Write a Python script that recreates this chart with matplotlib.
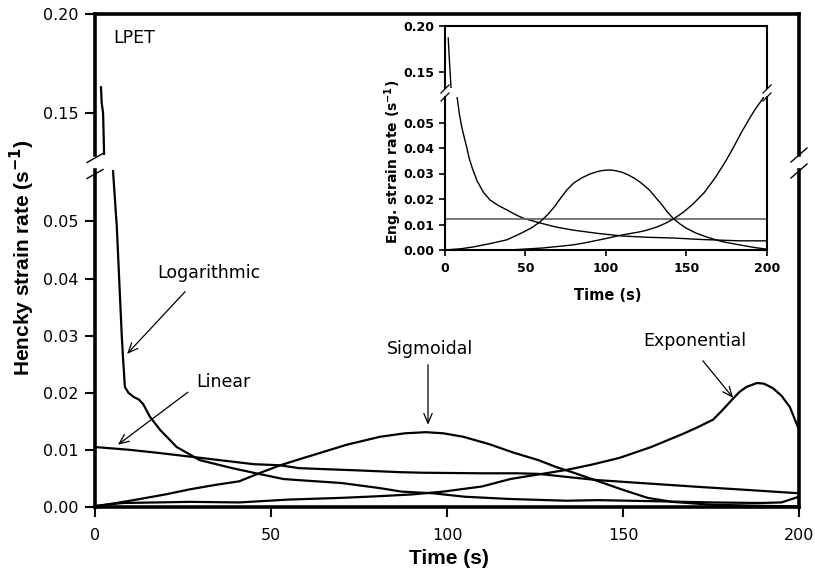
import matplotlib
matplotlib.use("Agg")
import matplotlib.pyplot as plt
from matplotlib.lines import Line2D

W, H = 815, 574

# ---------------- data ----------------
# Main chart: Hencky strain rate (s^-1) vs time (s)
log_t = [1.7, 1.9, 2.3, 2.6, 3.5, 4.8, 5.1, 6.2, 7.6, 8.0, 8.5, 9.5, 10.9, 12.5, 13.7,
         15.6, 18.5, 23.2, 29.8, 39, 45, 53.5, 58, 70, 81, 87, 96, 105, 118, 134,
         143, 160, 175, 189, 195, 200]
log_v = [0.163, 0.155, 0.150, 0.128, 0.090, 0.062, 0.059, 0.049, 0.030, 0.0257, 0.021,
         0.0200, 0.0193, 0.0188, 0.0180, 0.0158, 0.0135, 0.0105, 0.0082, 0.0068, 0.0060,
         0.0049, 0.0047, 0.0042, 0.0033, 0.0027, 0.0024, 0.0018, 0.0014, 0.0011, 0.0012,
         0.0010, 0.0008, 0.0007, 0.0008, 0.0018]

lin_t = [0, 10, 17.6, 30, 45, 52.6, 58, 75, 86.6, 93, 110, 120, 126, 135, 143, 155,
         172, 185, 200]
lin_v = [0.0105, 0.0100, 0.0095, 0.0086, 0.0075, 0.0073, 0.0068, 0.0064, 0.0061,
         0.0060, 0.0059, 0.0059, 0.0058, 0.0052, 0.0047, 0.0042, 0.0035, 0.0030, 0.0024]

sig_t = [0, 10, 20, 27, 34.5, 41, 47, 52.6, 58.8, 62, 71.5, 81, 88, 94, 99, 104.6,
         112, 119, 126, 131, 136, 143, 150, 157, 164, 175, 190, 200]
sig_v = [0.0001, 0.0011, 0.0022, 0.0031, 0.0039, 0.0045, 0.0060, 0.0073, 0.0085,
         0.0091, 0.0109, 0.0123, 0.0129, 0.0131, 0.0129, 0.0123, 0.0110, 0.0095,
         0.0082, 0.0070, 0.0060, 0.0045, 0.0030, 0.0016, 0.0009, 0.0004, 0.0002, 0.0001]

exp_t = [0, 8, 27, 41, 55, 70, 81, 90, 99, 110, 118, 126, 134, 141, 149, 158, 167,
         171, 175.6, 178, 181, 183, 185, 188, 190, 192.6, 195, 197.4, 199.7]
exp_v = [0.0002, 0.0007, 0.0009, 0.0008, 0.0013, 0.0016, 0.0019, 0.0022, 0.0027,
         0.0036, 0.0049, 0.0057, 0.0065, 0.0074, 0.0086, 0.0105, 0.0128, 0.0139,
         0.0153, 0.0168, 0.0188, 0.0201, 0.0210, 0.0217, 0.0216, 0.0208, 0.0195,
         0.0175, 0.0140]

# Inset: engineering strain rate (s^-1) vs time (s)
ilog_t = [2.0, 2.5, 3.0, 3.5, 4.0, 6.0, 7.5, 9.0, 10.5, 12.0, 13.6, 15.0, 17, 20, 24,
          28, 33, 38.5, 44, 48.5, 59, 69, 79.5, 95, 110, 125, 141.6, 160, 183, 200]
ilog_v = [0.187, 0.170, 0.155, 0.140, 0.125, 0.075, 0.060, 0.053, 0.048, 0.044, 0.040,
          0.036, 0.032, 0.027, 0.0225, 0.0196, 0.0175, 0.0157, 0.0138, 0.0125, 0.0106,
          0.0090, 0.0078, 0.0065, 0.0055, 0.0050, 0.0047, 0.0041, 0.0036, 0.0036]

ilin_t = [0, 200]
ilin_v = [0.0122, 0.0122]

isig_t = [0, 10, 17.6, 28, 38.5, 48, 54, 59, 64, 68, 72, 75.6, 80, 85, 90, 95, 98,
          102.5, 106, 110, 114, 118, 122, 127, 131, 135, 138, 142, 146, 150, 156,
          162.5, 172, 183, 192, 200]
isig_v = [0.0, 0.0005, 0.0012, 0.0025, 0.0040, 0.0068, 0.0088, 0.0110, 0.0140, 0.0170,
          0.0205, 0.0235, 0.0263, 0.0283, 0.0298, 0.0308, 0.0312, 0.0314, 0.0311,
          0.0305, 0.0294, 0.0280, 0.0262, 0.0235, 0.0205, 0.0175, 0.0150, 0.0122,
          0.0102, 0.0085, 0.0066, 0.0051, 0.0033, 0.0020, 0.0010, 0.0003]

iexp_t = [0, 40, 61, 79.5, 86, 100, 110, 120, 125, 131.5, 137, 142, 148, 154, 161,
          168, 174, 179, 184, 189.5, 193, 197, 200]
iexp_v = [0.0, 0.0, 0.0008, 0.0020, 0.0027, 0.0045, 0.0059, 0.0070, 0.0077, 0.0090,
          0.0105, 0.0122, 0.0148, 0.0180, 0.0225, 0.0285, 0.0345, 0.0400, 0.0460,
          0.0520, 0.0555, 0.0590, 0.0620]

x_ticks = [0, 50, 100, 150, 200]
main_low_ticks = [0.00, 0.01, 0.02, 0.03, 0.04, 0.05]
main_up_ticks = [0.15, 0.20]
ins_low_ticks = [0.00, 0.01, 0.02, 0.03, 0.04, 0.05]
ins_up_ticks = [0.15, 0.20]

# ---------------- figure ----------------
fig = plt.figure(figsize=(W / 100, H / 100), dpi=100)
plt.rcParams['font.family'] = ['DejaVu Sans']


def rect(l, t, r, b):
    return [l / W, 1 - b / H, (r - l) / W, (b - t) / H]


main_l, main_r = 95, 799
ax_lo = fig.add_axes(rect(main_l, 170, main_r, 507))
ax_up = fig.add_axes(rect(main_l, 14, main_r, 155))

series_main = [(log_t, log_v), (lin_t, lin_v), (sig_t, sig_v), (exp_t, exp_v)]
for ax in (ax_lo, ax_up):
    for t, v in series_main:
        ax.plot(t, v, color='black', lw=1.6, solid_joinstyle='round')
    ax.set_xlim(0, 200)
    for s in ax.spines.values():
        s.set_linewidth(2.6)
    ax.tick_params(direction='out', length=7, width=1.5, labelsize=11.5, pad=5)

ax_lo.set_ylim(0, 0.059)
ax_up.set_ylim(0.1288, 0.20)
ax_lo.spines['top'].set_visible(False)
ax_up.spines['bottom'].set_visible(False)
ax_lo.set_xticks(x_ticks)
ax_lo.set_xticklabels([str(x) for x in x_ticks])
ax_lo.tick_params(axis='x', pad=8)
ax_up.set_xticks([])
ax_lo.set_yticks(main_low_ticks)
ax_lo.set_yticklabels([f"{v:.2f}" for v in main_low_ticks])
ax_up.set_yticks(main_up_ticks)
ax_up.set_yticklabels([f"{v:.2f}" for v in main_up_ticks])
ax_lo.yaxis.set_ticks_position('left')
ax_up.yaxis.set_ticks_position('left')

# labels
fig.text(22 / W, 1 - 258 / H, "Hencky strain rate (s$^{\\mathbf{-1}}$)", rotation=90,
         ha='center', va='center', fontsize=15, fontweight='bold',
         family=['Liberation Sans', 'DejaVu Sans'])
fig.text(449 / W, 1 - 559 / H, "Time (s)", ha='center', va='center', fontsize=15,
         fontweight='bold', family=['Liberation Sans', 'DejaVu Sans'])

ax_up.text(5.1, 0.1879, "LPET", ha='left', va='center', fontsize=12.5)

ann_kw = dict(arrowstyle='->,head_length=0.7,head_width=0.3', lw=0.9, color='black',
              shrinkA=0, shrinkB=0)
ax_lo.text(32.4, 0.0410, "Logarithmic", ha='center', va='center', fontsize=12.5)
ax_lo.annotate('', xy=(9.1, 0.0268), xytext=(25.6, 0.0377), arrowprops=ann_kw)
ax_lo.text(36.6, 0.0219, "Linear", ha='center', va='center', fontsize=12.5)
ax_lo.annotate('', xy=(6.5, 0.0109), xytext=(26.4, 0.0201), arrowprops=ann_kw)
ax_lo.text(95.2, 0.0277, "Sigmoidal", ha='center', va='center', fontsize=12.5)
ax_lo.annotate('', xy=(94.6, 0.0144), xytext=(94.6, 0.0249), arrowprops=ann_kw)
ax_lo.text(170.5, 0.0291, "Exponential", ha='center', va='center', fontsize=12.5)
ax_lo.annotate('', xy=(181.3, 0.0191), xytext=(172.7, 0.0256), arrowprops=ann_kw)


def slash(xc, yc, dx, dy, lw):
    fig.add_artist(Line2D([(xc - dx) / W, (xc + dx) / W],
                          [1 - (yc + dy) / H, 1 - (yc - dy) / H],
                          transform=fig.transFigure, color='black', lw=lw, zorder=10))


for yc in (158, 174):
    slash(main_l, yc, 8, 4.5, 1.0)
for yc in (155, 171):
    slash(main_r, yc, 8, 7, 1.0)

# ---------------- inset ----------------
in_l, in_r = 445, 767
iax_lo = fig.add_axes(rect(in_l, 97, in_r, 250))
iax_up = fig.add_axes(rect(in_l, 26, in_r, 88))

for ax in (iax_lo, iax_up):
    ax.set_facecolor('white')
    ax.plot(ilog_t, ilog_v, color='black', lw=1.0)
    ax.plot(ilin_t, ilin_v, color='#606060', lw=1.2)
    ax.plot(isig_t, isig_v, color='black', lw=1.0)
    ax.plot(iexp_t, iexp_v, color='black', lw=1.0)
    ax.set_xlim(0, 200)
    for s in ax.spines.values():
        s.set_linewidth(1.5)
    ax.tick_params(direction='out', length=4, width=1.2, labelsize=9, pad=4)

iax_lo.set_ylim(0, 0.06)
iax_up.set_ylim(0.1326, 0.20)
iax_lo.spines['top'].set_visible(False)
iax_up.spines['bottom'].set_visible(False)
iax_lo.set_xticks(x_ticks)
iax_lo.set_xticklabels([str(x) for x in x_ticks], fontweight='bold', fontsize=9)
iax_lo.tick_params(axis='x', pad=5)
iax_up.set_xticks([])
iax_lo.set_yticks(ins_low_ticks)
iax_lo.set_yticklabels([f"{v:.2f}" for v in ins_low_ticks], fontweight='bold', fontsize=9)
iax_up.set_yticks(ins_up_ticks)
iax_up.set_yticklabels([f"{v:.2f}" for v in ins_up_ticks], fontweight='bold', fontsize=9)
iax_lo.yaxis.set_ticks_position('left')
iax_up.yaxis.set_ticks_position('left')

fig.text(393 / W, 1 - 162 / H, "Eng. strain rate (s$^{\\mathbf{-1}}$)", rotation=90,
         ha='center', va='center', fontsize=10, fontweight='bold')
fig.text(608 / W, 1 - 296 / H, "Time (s)", ha='center', va='center', fontsize=10.5,
         fontweight='bold')

for xc in (in_l, in_r):
    for yc in (89, 97):
        slash(xc, yc, 4, 4, 0.9)

fig.savefig("out.png", dpi=100)
